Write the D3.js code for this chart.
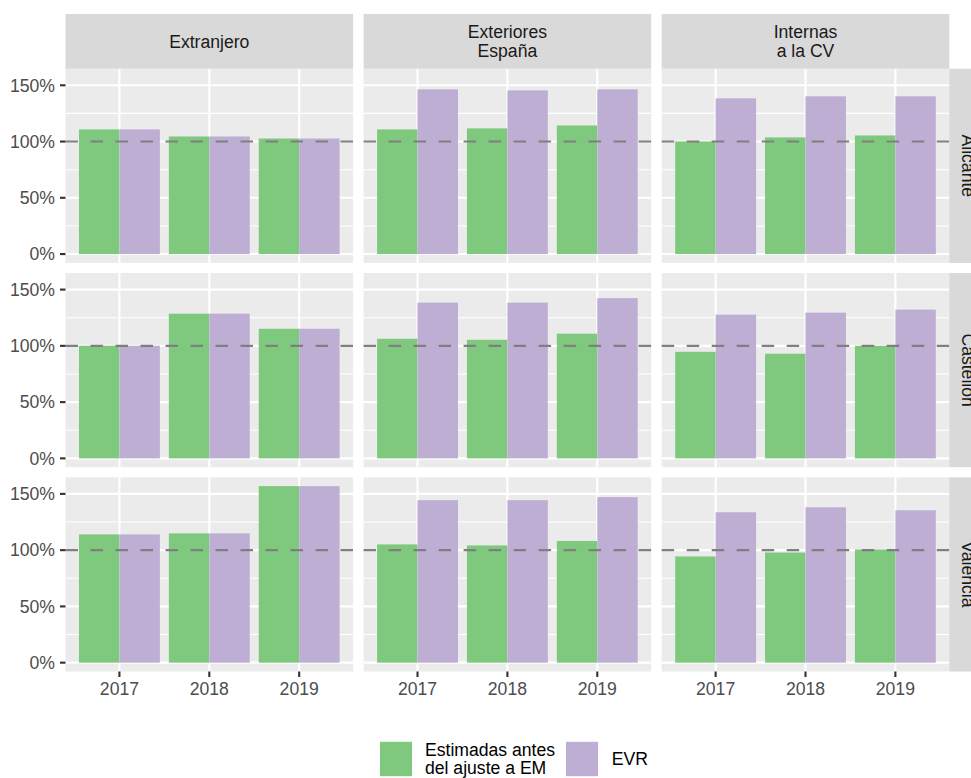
<!DOCTYPE html>
<html>
<head>
<meta charset="utf-8">
<script src="https://cdn.jsdelivr.net/npm/d3@7"></script>
<style>
  html, body { margin: 0; padding: 0; background: #ffffff; }
  svg { display: block; font-family: "Liberation Sans", Arial, Helvetica, sans-serif; }
</style>
</head>
<body>
<svg id="chart" width="971" height="778"></svg>
<script>
// ---------------- data ----------------
const years = ["2017", "2018", "2019"];
const origins = ["Extranjero", "Exteriores\nEspaña", "Internas\na la CV"];
const provinces = ["Alicante", "Castellón", "Valencia"];
const seriesNames = ["Estimadas antes\ndel ajuste a EM", "EVR"];
const seriesColors = ["#7FC97F", "#BEAED4"];
const yTicks = [0, 0.5, 1, 1.5];
const yMinor = [0.25, 0.75, 1.25];
const refLine = 1;

// values by province -> origin -> [years]
const alicanteEstimadas = [[1.108, 1.045, 1.027], [1.108, 1.117, 1.143], [1.001, 1.037, 1.054]];
const alicanteEVR       = [[1.108, 1.045, 1.027], [1.464, 1.455, 1.464], [1.384, 1.402, 1.402]];
const castellonEstimadas = [[1.001, 1.286, 1.152], [1.063, 1.054, 1.108], [0.947, 0.930, 1.001]];
const castellonEVR       = [[1.001, 1.286, 1.152], [1.384, 1.384, 1.424], [1.277, 1.295, 1.322]];
const valenciaEstimadas = [[1.140, 1.149, 1.569], [1.051, 1.042, 1.082], [0.944, 0.979, 1.006]];
const valenciaEVR       = [[1.140, 1.149, 1.569], [1.444, 1.444, 1.471], [1.337, 1.381, 1.354]];

const estimadas = [alicanteEstimadas, castellonEstimadas, valenciaEstimadas];
const evr = [alicanteEVR, castellonEVR, valenciaEVR];

// flatten into records
const records = [];
provinces.forEach((p, pi) => {
  origins.forEach((o, oi) => {
    years.forEach((y, yi) => {
      records.push({ row: pi, col: oi, year: y, series: 0, value: estimadas[pi][oi][yi] });
      records.push({ row: pi, col: oi, year: y, series: 1, value: evr[pi][oi][yi] });
    });
  });
});

// ---------------- layout ----------------
const svg = d3.select("#chart");
const W = 971, H = 778;
svg.append("rect").attr("width", W).attr("height", H).attr("fill", "#ffffff");

const panelLeft = 65.5, panelRight = 949.3, colGap = 10.5;
const panelW = (panelRight - panelLeft - 2 * colGap) / 3;
const stripTop = 14, stripH = 54.7;
const rowTop0 = stripTop + stripH, rowGap = 10.1, panelH = 194.2;
const stripRightW = 40;
const fontSize = 17.6;
const capH = fontSize * 0.716;

const colX = i => panelLeft + i * (panelW + colGap);
const rowY = i => rowTop0 + i * (panelH + rowGap);

// y scale (shared), ggplot-like 5% expansion
const allVals = records.map(d => d.value);
const yLo = Math.min(0, d3.min(allVals)), yHi = d3.max(allVals);
const yExp = (yHi - yLo) * 0.05;
const y = d3.scaleLinear().domain([yLo - yExp, yHi + yExp]).range([panelH, 0]);

// x scale: discrete with 0.6 expansion
const band = panelW / (years.length - 1 + 1.2);
const x = d3.scalePoint().domain(years).range([0.6 * band, panelW - 0.6 * band]);
const barW = band * 0.9;

const fmtPct = d3.format(".0%");

// ---------------- panels ----------------
provinces.forEach((p, pi) => {
  origins.forEach((o, oi) => {
    const g = svg.append("g").attr("transform", `translate(${colX(oi)},${rowY(pi)})`);
    g.append("rect").attr("width", panelW).attr("height", panelH).attr("fill", "#EBEBEB");
    // minor grid
    g.selectAll(".minor").data(yMinor).join("line")
      .attr("x1", 0).attr("x2", panelW)
      .attr("y1", d => y(d)).attr("y2", d => y(d))
      .attr("stroke", "#ffffff").attr("stroke-width", 1.1);
    // major grid
    g.selectAll(".majorY").data(yTicks).join("line")
      .attr("x1", 0).attr("x2", panelW)
      .attr("y1", d => y(d)).attr("y2", d => y(d))
      .attr("stroke", "#ffffff").attr("stroke-width", 2.1);
    g.selectAll(".majorX").data(years).join("line")
      .attr("x1", d => x(d)).attr("x2", d => x(d))
      .attr("y1", 0).attr("y2", panelH)
      .attr("stroke", "#ffffff").attr("stroke-width", 2.1);
    // bars
    const recs = records.filter(r => r.row === pi && r.col === oi);
    g.selectAll(".bar").data(recs).join("rect")
      .attr("x", d => x(d.year) - barW / 2 + d.series * barW / 2)
      .attr("width", barW / 2)
      .attr("y", d => y(Math.max(0, d.value)))
      .attr("height", d => Math.abs(y(0) - y(d.value)))
      .attr("fill", d => seriesColors[d.series]);
    // reference line
    g.append("line")
      .attr("x1", 0).attr("x2", panelW)
      .attr("y1", y(refLine)).attr("y2", y(refLine))
      .attr("stroke", "#7F7F7F").attr("stroke-width", 2.1)
      .attr("stroke-dasharray", "12.5,12.5");
  });
});

// ---------------- top strips ----------------
origins.forEach((o, oi) => {
  const g = svg.append("g").attr("transform", `translate(${colX(oi)},${stripTop})`);
  g.append("rect").attr("width", panelW).attr("height", stripH).attr("fill", "#D9D9D9");
  const lines = o.split("\n");
  const lh = 18.4;
  const cy = stripH / 2;
  lines.forEach((l, li) => {
    const off = (li - (lines.length - 1) / 2) * lh;
    g.append("text")
      .attr("x", panelW / 2).attr("y", cy + off + capH / 2)
      .attr("text-anchor", "middle")
      .attr("font-size", fontSize).attr("fill", "#1A1A1A")
      .text(l);
  });
});

// ---------------- right strips ----------------
provinces.forEach((p, pi) => {
  const g = svg.append("g").attr("transform", `translate(${panelRight},${rowY(pi)})`);
  g.append("rect").attr("width", stripRightW).attr("height", panelH).attr("fill", "#D9D9D9");
  g.append("text")
    .attr("transform", `translate(12.4,${panelH / 2}) rotate(90)`)
    .attr("text-anchor", "middle")
    .attr("font-size", fontSize).attr("fill", "#1A1A1A")
    .text(p);
});

// ---------------- y axes (left column) ----------------
provinces.forEach((p, pi) => {
  const g = svg.append("g").attr("transform", `translate(${panelLeft},${rowY(pi)})`);
  g.selectAll(".tick").data(yTicks).join("line")
    .attr("x1", -5.5).attr("x2", 0)
    .attr("y1", d => y(d)).attr("y2", d => y(d))
    .attr("stroke", "#333333").attr("stroke-width", 2.1);
  g.selectAll(".lab").data(yTicks).join("text")
    .attr("x", -10.5).attr("y", d => y(d) + capH / 2)
    .attr("text-anchor", "end")
    .attr("font-size", fontSize).attr("fill", "#4D4D4D")
    .text(d => fmtPct(d));
});

// ---------------- x axes (bottom row) ----------------
origins.forEach((o, oi) => {
  const g = svg.append("g").attr("transform", `translate(${colX(oi)},${rowY(provinces.length - 1) + panelH})`);
  g.selectAll(".tick").data(years).join("line")
    .attr("x1", d => x(d)).attr("x2", d => x(d))
    .attr("y1", 0).attr("y2", 5.5)
    .attr("stroke", "#333333").attr("stroke-width", 2.1);
  g.selectAll(".lab").data(years).join("text")
    .attr("x", d => x(d)).attr("y", 5.5 + 4.4 + capH + 0.5)
    .attr("text-anchor", "middle")
    .attr("font-size", fontSize).attr("fill", "#4D4D4D")
    .text(d => d);
});

// ---------------- legend ----------------
const legend = svg.append("g");
const keyW = 32, keyH = 34.4, keyTop = 741.8;
const keyX = [380, 566];
const textX = [425, 611.7];
seriesNames.forEach((s, si) => {
  legend.append("rect")
    .attr("x", keyX[si]).attr("y", keyTop)
    .attr("width", keyW).attr("height", keyH)
    .attr("fill", seriesColors[si]);
  const lines = s.split("\n");
  const lh = 18.2;
  const cy = keyTop + keyH / 2;
  lines.forEach((l, li) => {
    const off = (li - (lines.length - 1) / 2) * lh;
    legend.append("text")
      .attr("x", textX[si]).attr("y", cy + off + capH / 2)
      .attr("font-size", fontSize).attr("fill", "#000000")
      .text(l);
  });
});
</script>
</body>
</html>
